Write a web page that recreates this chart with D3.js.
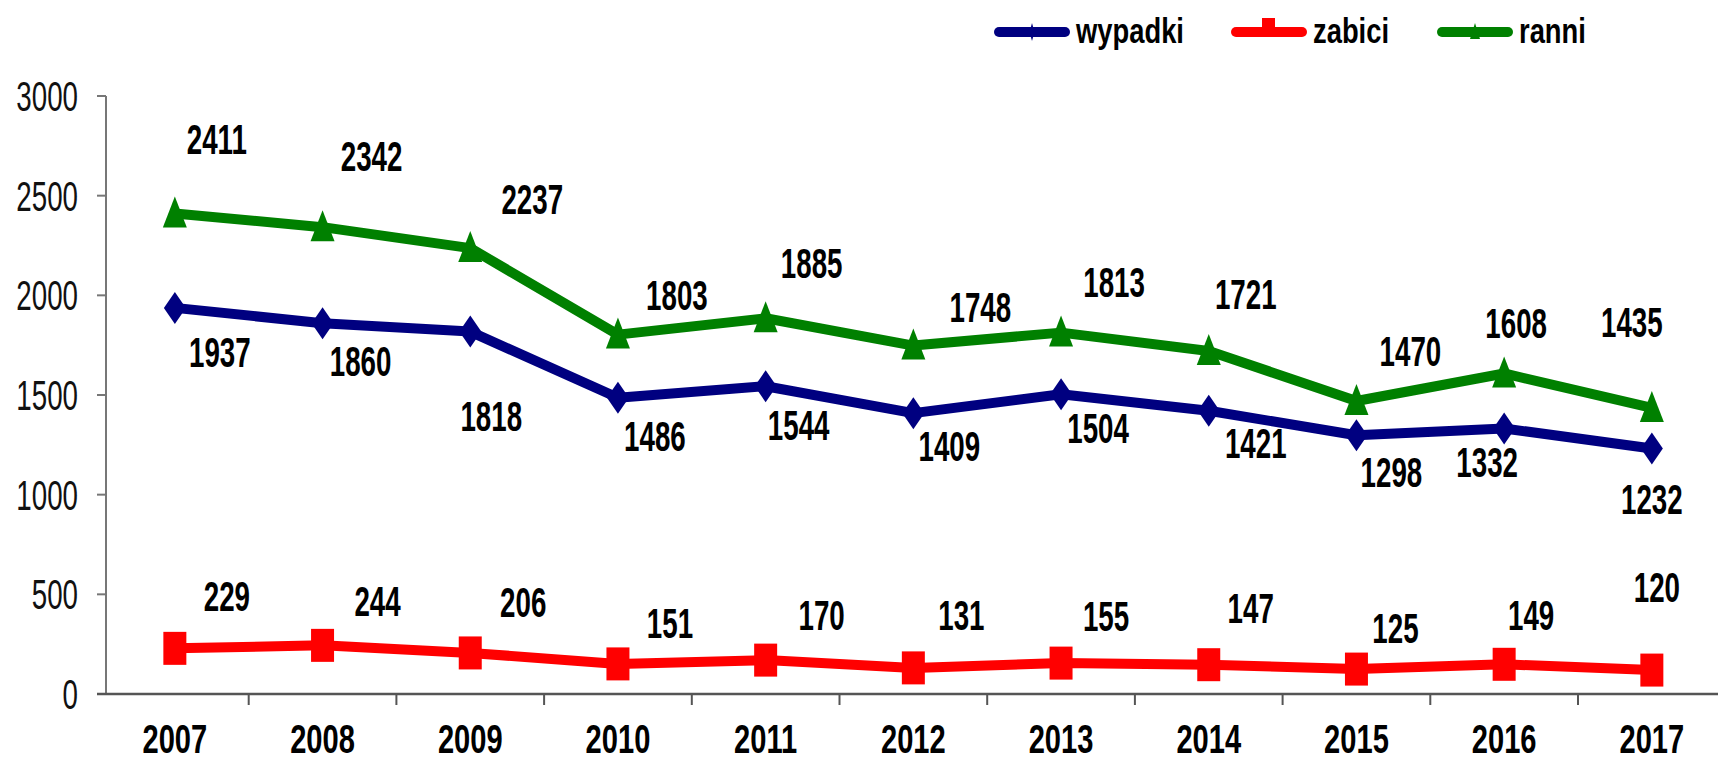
<!DOCTYPE html>
<html>
<head>
  <meta charset="utf-8">
  <title>wypadki / zabici / ranni</title>
<script src="https://cdnjs.cloudflare.com/ajax/libs/d3/7.8.5/d3.min.js"></script>
<style>
body { margin: 0; background: #fff; }
text { font-family: "Liberation Sans", Arial, sans-serif; fill: #000; }
.lbl { font-weight: bold; font-size: 42px; }
.year { font-weight: bold; font-size: 41px; }
.ytick { font-size: 42px; fill: #111; }
.leg { font-weight: bold; font-size: 36px; }
</style>
</head>
<body>
<svg id="vis" width="1718" height="762"></svg>
<script>
// data
var years   = [2007, 2008, 2009, 2010, 2011, 2012, 2013, 2014, 2015, 2016, 2017];
var wypadki = [1937, 1860, 1818, 1486, 1544, 1409, 1504, 1421, 1298, 1332, 1232];
var zabici  = [229, 244, 206, 151, 170, 131, 155, 147, 125, 149, 120];
var ranni   = [2411, 2342, 2237, 1803, 1885, 1748, 1813, 1721, 1470, 1608, 1435];
var yTicks  = [0, 500, 1000, 1500, 2000, 2500, 3000];

// where each value label sits relative to its point (px)
var wypadkiDx = [45, 38, 21, 37, 33, 36, 37, 47, 35, -17, 0];
var wypadkiDy = [44, 38, 84, 38, 39, 33, 34, 32, 37, 33, 50];
var zabiciDx  = [52, 55, 53, 52, 56, 48, 45, 42, 39, 27, 5];
var zabiciDy  = [-52, -44, -51, -41, -45, -53, -47, -57, -41, -49, -83];
var ranniDx   = [42, 49, 62, 59, 46, 67, 53, 37, 54, 12, -20];
var ranniDy   = [-75, -71, -49, -40, -55, -39, -51, -57, -50, -51, -86];

var series = [
  {name: 'wypadki', values: wypadki, dx: wypadkiDx, dy: wypadkiDy, color: '#000080', marker: 'diamond'},
  {name: 'zabici',  values: zabici,  dx: zabiciDx,  dy: zabiciDy,  color: '#ff0000', marker: 'square'},
  {name: 'ranni',   values: ranni,   dx: ranniDx,   dy: ranniDy,   color: '#008000', marker: 'triangle'}
];

var svg = d3.select('#vis');
var axisLeftX = 106, axisY = 694;

var x = d3.scaleBand()
  .domain(years)
  .range([101, 101 + years.length * 147.7])
  .padding(0);
var cx = d => x(d) + x.bandwidth() / 2;

var y = d3.scaleLinear()
  .domain([0, 3000])
  .range([axisY, 96]);

// squeezed text, the original uses a very narrow face
function narrow(sel, sx) {
  sel.attr('transform', function () {
    var t = d3.select(this);
    return `translate(${t.attr('data-x')},${t.attr('data-y')}) scale(${sx},1)`;
  });
}

// y axis
var gy = svg.append('g').attr('transform', `translate(${axisLeftX},0)`);
gy.append('line')
  .attr('x1', 0).attr('x2', 0)
  .attr('y1', y(3000)).attr('y2', axisY)
  .attr('stroke', '#777').attr('stroke-width', 2);
gy.selectAll('.tk').data(yTicks).enter().append('line')
  .attr('x1', -9).attr('x2', 0)
  .attr('y1', d => y(d)).attr('y2', d => y(d))
  .attr('stroke', '#777').attr('stroke-width', 2);
gy.selectAll('.ytick').data(yTicks).enter().append('text')
  .attr('class', 'ytick')
  .attr('data-x', -28).attr('data-y', d => y(d))
  .attr('text-anchor', 'end')
  .attr('dy', '0.36em')
  .text(d => d)
  .call(narrow, 0.66);

// x axis
var gx = svg.append('g');
gx.append('line')
  .attr('x1', 97).attr('x2', 1718)
  .attr('y1', axisY).attr('y2', axisY)
  .attr('stroke', '#555').attr('stroke-width', 2.5);
gx.selectAll('.xt').data(years.slice(1)).enter().append('line')
  .attr('x1', d => x(d)).attr('x2', d => x(d))
  .attr('y1', axisY).attr('y2', axisY + 11)
  .attr('stroke', '#555').attr('stroke-width', 2);
gx.selectAll('.year').data(years).enter().append('text')
  .attr('class', 'year')
  .attr('data-x', d => cx(d)).attr('data-y', 753)
  .attr('text-anchor', 'middle')
  .text(d => d)
  .call(narrow, 0.71);

// markers
function markerPath(type) {
  if (type === 'diamond') return 'M0,-16L11,0L0,16L-11,0Z';
  if (type === 'square') return 'M-11.5,-16.5h23v33h-23Z';
  return 'M0,-17L12,14L-12,14Z';
}

var line = d3.line()
  .x((d, i) => cx(years[i]))
  .y(d => y(d));

series.forEach(function (s) {
  var g = svg.append('g').attr('class', 'series-' + s.name);
  g.append('path')
    .datum(s.values)
    .attr('d', line)
    .attr('fill', 'none')
    .attr('stroke', s.color)
    .attr('stroke-width', 10)
    .attr('stroke-linejoin', 'round');
  g.selectAll('.mk').data(s.values).enter().append('path')
    .attr('transform', (d, i) => `translate(${cx(years[i])},${y(d)})`)
    .attr('d', markerPath(s.marker))
    .attr('fill', s.color);
});

series.forEach(function (s) {
  svg.append('g').selectAll('.lbl').data(s.values).enter().append('text')
    .attr('class', 'lbl')
    .attr('data-x', (d, i) => cx(years[i]) + s.dx[i])
    .attr('data-y', (d, i) => y(d) + s.dy[i])
    .attr('text-anchor', 'middle')
    .attr('dy', '0.36em')
    .text(d => d)
    .call(narrow, 0.66);
});

// legend
var legendX = [999, 1236, 1442];
var legend = svg.append('g');
series.forEach(function (s, i) {
  var g = legend.append('g').attr('transform', `translate(${legendX[i]},32)`);
  g.append('line')
    .attr('x1', 0).attr('x2', 66)
    .attr('stroke', s.color).attr('stroke-width', 10)
    .attr('stroke-linecap', 'round');
  if (s.marker === 'diamond') {
    g.append('path').attr('d', 'M33,-9L35.5,0L33,9L30.5,0Z').attr('fill', s.color);
  } else if (s.marker === 'square') {
    g.append('rect').attr('x', 26).attr('y', -14).attr('width', 13).attr('height', 14).attr('fill', s.color);
  } else {
    g.append('path').attr('d', 'M33,-9L38,7L28,7Z').attr('fill', s.color);
  }
  g.append('text')
    .attr('class', 'leg')
    .attr('data-x', 77).attr('data-y', 11)
    .text(s.name)
    .call(narrow, 0.76);
});
</script>
</body>
</html>
